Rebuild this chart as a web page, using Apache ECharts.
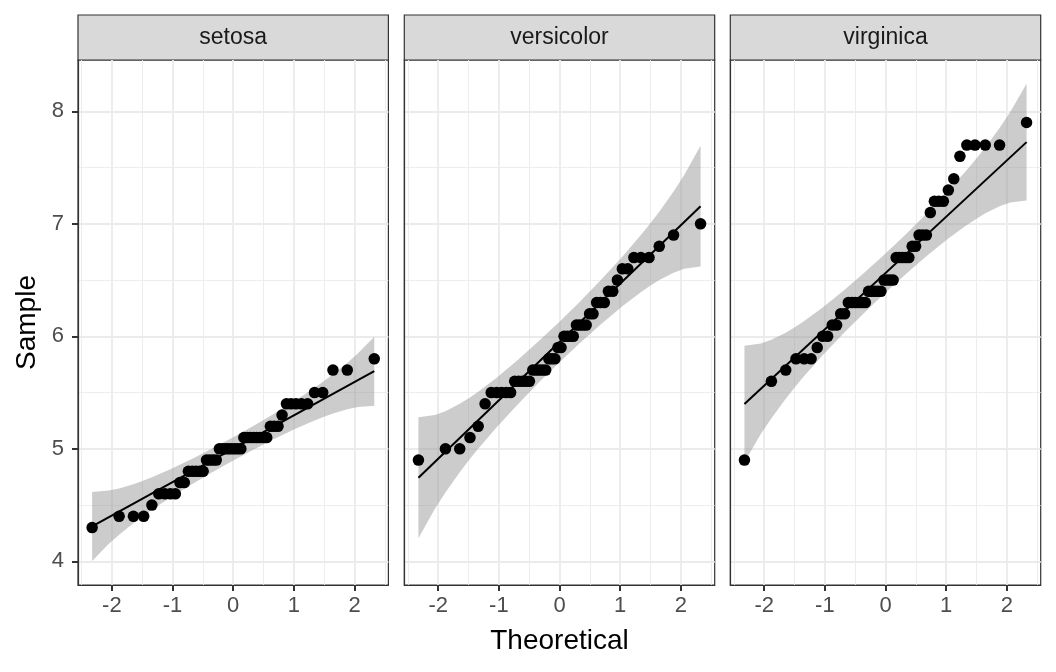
<!DOCTYPE html>
<html>
<head>
<meta charset="utf-8">
<script src="https://cdn.jsdelivr.net/npm/echarts@6/dist/echarts.min.js"></script>
<style>
  html, body { margin: 0; padding: 0; background: #fff; }
  #chart { width: 1056px; height: 672px; }
</style>
</head>
<body>
<div id="chart"></div>
<script>
// panels (facets)
const species = ["setosa", "versicolor", "virginica"];

// theoretical normal quantiles for n = 50 (shared by every panel)
const theoQ = [-2.326, -1.881, -1.645, -1.476, -1.341, -1.227, -1.126, -1.036, -0.954, -0.878,
  -0.806, -0.739, -0.674, -0.613, -0.553, -0.496, -0.440, -0.385, -0.332, -0.279,
  -0.228, -0.176, -0.126, -0.075, -0.025, 0.025, 0.075, 0.126, 0.176, 0.228,
  0.279, 0.332, 0.385, 0.440, 0.496, 0.553, 0.613, 0.674, 0.739, 0.806,
  0.878, 0.954, 1.036, 1.126, 1.227, 1.341, 1.476, 1.645, 1.881, 2.326];

// sorted sample values
const setosaSample = [4.3, 4.4, 4.4, 4.4, 4.5, 4.6, 4.6, 4.6, 4.6, 4.7, 4.7, 4.8, 4.8, 4.8, 4.8, 4.8,
  4.9, 4.9, 4.9, 4.9, 5.0, 5.0, 5.0, 5.0, 5.0, 5.0, 5.0, 5.0, 5.1, 5.1, 5.1, 5.1, 5.1, 5.1, 5.1, 5.1,
  5.2, 5.2, 5.2, 5.3, 5.4, 5.4, 5.4, 5.4, 5.4, 5.5, 5.5, 5.7, 5.7, 5.8];
const versicolorSample = [4.9, 5.0, 5.0, 5.1, 5.2, 5.4, 5.5, 5.5, 5.5, 5.5, 5.5, 5.6, 5.6, 5.6, 5.6, 5.6,
  5.7, 5.7, 5.7, 5.7, 5.7, 5.8, 5.8, 5.8, 5.9, 5.9, 6.0, 6.0, 6.0, 6.0, 6.1, 6.1, 6.1, 6.1,
  6.2, 6.2, 6.3, 6.3, 6.3, 6.4, 6.4, 6.5, 6.6, 6.6, 6.7, 6.7, 6.7, 6.8, 6.9, 7.0];
const virginicaSample = [4.9, 5.6, 5.7, 5.8, 5.8, 5.8, 5.9, 6.0, 6.0, 6.1, 6.1, 6.2, 6.2, 6.3, 6.3, 6.3,
  6.3, 6.3, 6.3, 6.4, 6.4, 6.4, 6.4, 6.4, 6.5, 6.5, 6.5, 6.5, 6.7, 6.7, 6.7, 6.7, 6.7, 6.8, 6.8,
  6.9, 6.9, 6.9, 7.1, 7.2, 7.2, 7.2, 7.3, 7.4, 7.6, 7.7, 7.7, 7.7, 7.7, 7.9];

// reference line end points
const lineX = [-2.326, 2.326];
const setosaLine = [4.310, 5.690];
const versicolorLine = [4.743, 7.157];
const virginicaLine = [5.399, 7.726];

// confidence band
const bandX = [-2.326, -2.054, -1.881, -1.645, -1.476, -1.341, -1.036, -0.674, -0.332, 0,
  0.332, 0.674, 1.036, 1.341, 1.476, 1.645, 1.881, 2.054, 2.326];
const setosaLow = [4.003, 4.154, 4.236, 4.339, 4.406, 4.458, 4.567, 4.688, 4.797, 4.897,
  4.993, 5.088, 5.181, 5.253, 5.281, 5.314, 5.352, 5.372, 5.383];
const setosaHigh = [4.617, 4.629, 4.648, 4.686, 4.719, 4.747, 4.819, 4.912, 5.007, 5.103,
  5.203, 5.312, 5.433, 5.543, 5.594, 5.662, 5.764, 5.847, 5.997];
const versicolorLow = [4.206, 4.468, 4.613, 4.792, 4.911, 5.000, 5.192, 5.404, 5.594, 5.770,
  5.938, 6.104, 6.268, 6.392, 6.443, 6.500, 6.565, 6.600, 6.620];
const versicolorHigh = [5.280, 5.300, 5.335, 5.400, 5.457, 5.508, 5.632, 5.796, 5.962, 6.130,
  6.306, 6.496, 6.708, 6.900, 6.989, 7.108, 7.287, 7.432, 7.694];
const virginicaLow = [4.881, 5.134, 5.273, 5.446, 5.561, 5.647, 5.832, 6.036, 6.219, 6.389,
  6.552, 6.711, 6.869, 6.990, 7.037, 7.093, 7.156, 7.189, 7.208];
const virginicaHigh = [5.917, 5.936, 5.969, 6.032, 6.088, 6.137, 6.256, 6.414, 6.573, 6.736,
  6.906, 7.089, 7.293, 7.479, 7.565, 7.679, 7.852, 7.991, 8.244];

// axes
const xRange = [-2.559, 2.559];
const yRange = [3.79, 8.456];
const xMajor = [-2, -1, 0, 1, 2];
const xMinor = [-2.5, -1.5, -0.5, 0.5, 1.5, 2.5];
const yMajor = [4, 5, 6, 7, 8];
const yMinor = [4.5, 5.5, 6.5, 7.5];

const samples = [setosaSample, versicolorSample, virginicaSample];
const lines = [setosaLine, versicolorLine, virginicaLine];
const lows = [setosaLow, versicolorLow, virginicaLow];
const highs = [setosaHigh, versicolorHigh, virginicaHigh];

const FONT = "Liberation Sans, Arial, sans-serif";
const panelLeft = [78, 404.3, 730.3];
const panelW = 310.4;
const panelTop = 60;
const panelBottom = 585;
const stripTop = 15;

const chart = echarts.init(document.getElementById("chart"));

const grids = [], xAxes = [], yAxes = [], series = [];

species.forEach((name, i) => {
  grids.push({
    left: panelLeft[i], top: panelTop, width: panelW, height: panelBottom - panelTop,
    show: true, borderColor: "#333", borderWidth: 1.2
  });
  // major x axis
  xAxes.push({
    gridIndex: i, type: "value", min: xRange[0], max: xRange[1], position: "bottom",
    axisLine: { show: true, onZero: false, lineStyle: { color: "#333", width: 1.2 } },
    axisTick: { show: true, length: 6, customValues: xMajor, lineStyle: { color: "#333", width: 2 } },
    axisLabel: { customValues: xMajor, color: "#4d4d4d", fontSize: 22, fontFamily: FONT, margin: 10 },
    splitLine: { show: true, lineStyle: { color: "#ebebeb", width: 1.8 } },
    name: i === 1 ? "Theoretical" : "", nameLocation: "middle", nameGap: 42,
    nameTextStyle: { fontSize: 28, color: "#000", fontFamily: FONT }
  });
  // minor x grid
  xAxes.push({
    gridIndex: i, type: "value", min: xRange[0], max: xRange[1], position: "top",
    axisLine: { show: false, onZero: false },
    axisTick: { show: false, customValues: xMinor },
    axisLabel: { show: false },
    splitLine: { show: true, lineStyle: { color: "#ebebeb", width: 0.9 } }
  });
  yAxes.push({
    gridIndex: i, type: "value", min: yRange[0], max: yRange[1], position: "left",
    axisLine: { show: true, onZero: false, lineStyle: { color: "#333", width: 1.2 } },
    axisTick: { show: i === 0, length: 6, customValues: yMajor, lineStyle: { color: "#333", width: 2 } },
    axisLabel: { show: i === 0, customValues: yMajor, color: "#4d4d4d", fontSize: 22, fontFamily: FONT, margin: 14 },
    splitLine: { show: true, lineStyle: { color: "#ebebeb", width: 1.8 } },
    name: i === 0 ? "Sample" : "", nameLocation: "middle", nameGap: 37,
    nameTextStyle: { fontSize: 28, color: "#000", fontFamily: FONT }
  });
  yAxes.push({
    gridIndex: i, type: "value", min: yRange[0], max: yRange[1], position: "right",
    axisLine: { show: false, onZero: false },
    axisTick: { show: false, customValues: yMinor },
    axisLabel: { show: false },
    splitLine: { show: true, lineStyle: { color: "#ebebeb", width: 0.9 } }
  });

  const lo = lows[i], hi = highs[i];
  series.push({
    type: "custom",
    xAxisIndex: 2 * i, yAxisIndex: 2 * i,
    data: bandX.map((x, k) => [x, lo[k], hi[k]]),
    encode: { x: 0, y: [1, 2] },
    renderItem: function (params, api) {
      if (params.dataIndex !== 0) return null;
      const pts = [];
      for (let k = 0; k < bandX.length; k++) pts.push(api.coord([bandX[k], lo[k]]));
      for (let k = bandX.length - 1; k >= 0; k--) pts.push(api.coord([bandX[k], hi[k]]));
      return { type: "polygon", shape: { points: pts }, style: { fill: "rgba(153,153,153,0.5)" } };
    }
  });
  series.push({
    type: "line",
    xAxisIndex: 2 * i, yAxisIndex: 2 * i,
    showSymbol: false, symbol: "none",
    data: lineX.map((x, k) => [x, lines[i][k]]),
    lineStyle: { color: "#000", width: 2 }
  });
  series.push({
    type: "scatter",
    xAxisIndex: 2 * i, yAxisIndex: 2 * i,
    symbolSize: 11.5,
    data: theoQ.map((x, k) => [x, samples[i][k]]),
    itemStyle: { color: "#000", opacity: 1 }
  });
});

// facet strips: grey boxes (grids), label as the name of an otherwise empty axis
species.forEach((name, i) => {
  grids.push({
    left: panelLeft[i], top: stripTop, width: panelW, height: panelTop - stripTop,
    show: true, backgroundColor: "#d9d9d9", borderColor: "#333", borderWidth: 1.2
  });
  xAxes.push({
    gridIndex: 3 + i, type: "value", min: 0, max: 1, position: "bottom",
    axisLine: { show: false, onZero: false }, axisTick: { show: false },
    axisLabel: { show: false }, splitLine: { show: false },
    name: name, nameLocation: "middle", nameGap: -34,
    nameTextStyle: { fontSize: 23, color: "#1a1a1a", fontFamily: FONT }
  });
  yAxes.push({
    gridIndex: 3 + i, type: "value", min: 0, max: 1, show: false
  });
});

chart.setOption({
  animation: false,
  grid: grids,
  xAxis: xAxes,
  yAxis: yAxes,
  series: series
});
</script>
</body>
</html>
